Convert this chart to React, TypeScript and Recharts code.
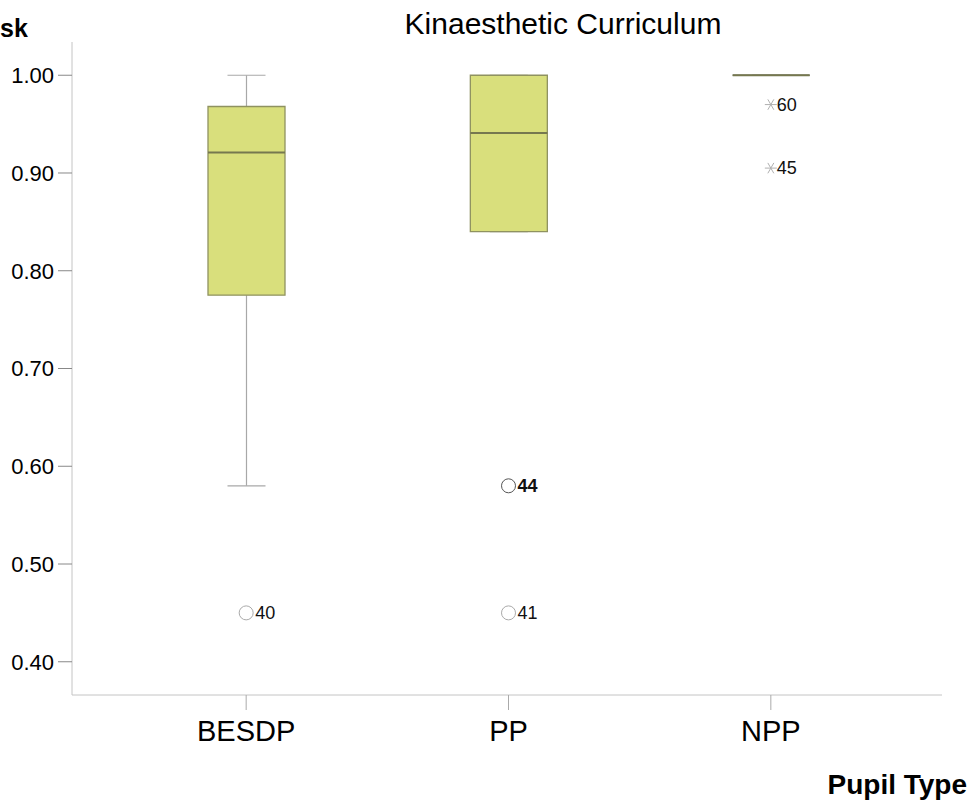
import { ComposedChart, Bar, Line, XAxis, YAxis } from 'recharts';

const categories = ['BESDP', 'PP', 'NPP'];
const whiskerLow = [0.58, 0.84, 1.0];
const q1 = [0.775, 0.84, 1.0];
const medians = [0.921, 0.941, 1.0];
const q3 = [0.968, 1.0, 1.0];
const whiskerHigh = [1.0, 1.0, 1.0];
const outlierA = [0.45, 0.58, 0.97];
const outlierAId = ['40', '44', '60'];
const outlierB = [null, 0.45, 0.905];
const outlierBId = [null, '41', '45'];
const outlierMarker = ['circle', 'circle', 'star'];
const yTicks = [0.4, 0.5, 0.6, 0.7, 0.8, 0.9, 1.0];

const data = categories.map((name, i) => ({
  name,
  whisker: [whiskerLow[i], whiskerHigh[i]],
  box: [q1[i], q3[i]],
  median: [medians[i], medians[i]],
  outA: outlierA[i],
  outAId: outlierAId[i],
  outB: outlierB[i],
  outBId: outlierBId[i],
  marker: outlierMarker[i],
}));

const FONT = '"Liberation Sans", Arial, sans-serif';
const FRAME = '#c4c4c4';

const WhiskerShape = ({ x, y, width, height }: any) => {
  const cx = x + width / 2;
  const cap = 19;
  return (
    <g stroke="#a8a8a8" strokeWidth={1.2}>
      <line x1={cx} x2={cx} y1={y} y2={y + height} />
      <line x1={cx - cap} x2={cx + cap} y1={y} y2={y} />
      <line x1={cx - cap} x2={cx + cap} y1={y + height} y2={y + height} />
    </g>
  );
};

const BoxShape = ({ x, y, width, height }: any) => {
  const flat = height < 1;
  return (
    <path
      d={`M${x},${y}h${width}v${height}h${-width}Z`}
      fill="#d9df7c"
      stroke={flat ? '#6e6e6e' : '#8f9260'}
      strokeWidth={1.3}
    />
  );
};

const MedianShape = ({ x, y, width }: any) => (
  <line x1={x} x2={x + width} y1={y} y2={y} stroke="#76784f" strokeWidth={2} />
);

const outlierDot = (idKey: string) => (props: any) => {
  const { cx, cy, payload, index, value } = props;
  const key = `${idKey}-${index}`;
  if (value == null || cy == null || isNaN(cy)) return <g key={key} />;
  const label = payload[idKey];
  if (payload.marker === 'star') {
    const r = 6;
    return (
      <g key={key}>
        <g stroke="#b0b0b0" strokeWidth={1}>
          {[0, 60, 120].map((a) => {
            const rad = (a * Math.PI) / 180;
            return (
              <line
                key={a}
                x1={cx - r * Math.cos(rad)}
                y1={cy - r * Math.sin(rad)}
                x2={cx + r * Math.cos(rad)}
                y2={cy + r * Math.sin(rad)}
              />
            );
          })}
        </g>
        <text x={cx + 6} y={cy} dy="0.35em" fontSize={18} fontFamily={FONT} fill="#111">
          {label}
        </text>
      </g>
    );
  }
  const dark = label === '44';
  return (
    <g key={key}>
      <circle cx={cx} cy={cy} r={7} fill="#fff" stroke={dark ? '#555' : '#aaa'} strokeWidth={1} />
      <text
        x={cx + 9}
        y={cy}
        dy="0.35em"
        fontSize={18}
        fontFamily={FONT}
        fontWeight={dark ? 'bold' : 'normal'}
        fill="#111"
      >
        {label}
      </text>
    </g>
  );
};

export default function App() {
  return (
    <div style={{ position: 'absolute', left: 0, top: 0, width: 973, height: 802, background: '#fff' }}>
      <ComposedChart
        width={973}
        height={802}
        data={data}
        margin={{ top: 42, right: 31, bottom: 47, left: 0 }}
        barSize={77}
        barGap={-77}
      >
        <XAxis
          dataKey="name"
          padding={{ left: 43, right: 40 }}
          interval={0}
          height={60}
          tickSize={15}
          tickMargin={10}
          axisLine={{ stroke: FRAME }}
          tickLine={{ stroke: '#aaa' }}
          tick={{ fontSize: 29, fill: '#000', fontFamily: FONT }}
        />
        <XAxis
          xAxisId="top"
          orientation="top"
          dataKey="name"
          height={0}
          tick={false}
          tickLine={false}
          axisLine={{ stroke: FRAME }}
        />
        <YAxis
          domain={[0.366, 1.034]}
          ticks={yTicks}
          allowDataOverflow
          width={72}
          tickSize={14}
          tickMargin={4}
          tickFormatter={(v: number) => v.toFixed(2)}
          axisLine={{ stroke: FRAME }}
          tickLine={{ stroke: '#888' }}
          tick={{ fontSize: 22, fill: '#000', fontFamily: FONT }}
        />
        <YAxis
          yAxisId="right"
          orientation="right"
          width={0}
          tick={false}
          tickLine={false}
          axisLine={{ stroke: FRAME }}
        />
        <Bar dataKey="whisker" shape={WhiskerShape} isAnimationActive={false} />
        <Bar dataKey="box" shape={BoxShape} isAnimationActive={false} />
        <Bar dataKey="median" shape={MedianShape} isAnimationActive={false} />
        <Line
          dataKey="outA"
          stroke="none"
          dot={outlierDot('outAId')}
          activeDot={false}
          isAnimationActive={false}
        />
        <Line
          dataKey="outB"
          stroke="none"
          dot={outlierDot('outBId')}
          activeDot={false}
          isAnimationActive={false}
        />
      </ComposedChart>
      <svg
        width={973}
        height={802}
        style={{ position: 'absolute', left: 0, top: 0, pointerEvents: 'none' }}
      >
        <text x={0} y={37} fontSize={25} fontWeight="bold" fontFamily={FONT} fill="#000">
          sk
        </text>
        <text x={563} y={34} textAnchor="middle" fontSize={30} fontFamily={FONT} fill="#000">
          Kinaesthetic Curriculum
        </text>
        <text x={967} y={794} textAnchor="end" fontSize={28} fontWeight="bold" fontFamily={FONT} fill="#000">
          Pupil Type
        </text>
      </svg>
    </div>
  );
}
